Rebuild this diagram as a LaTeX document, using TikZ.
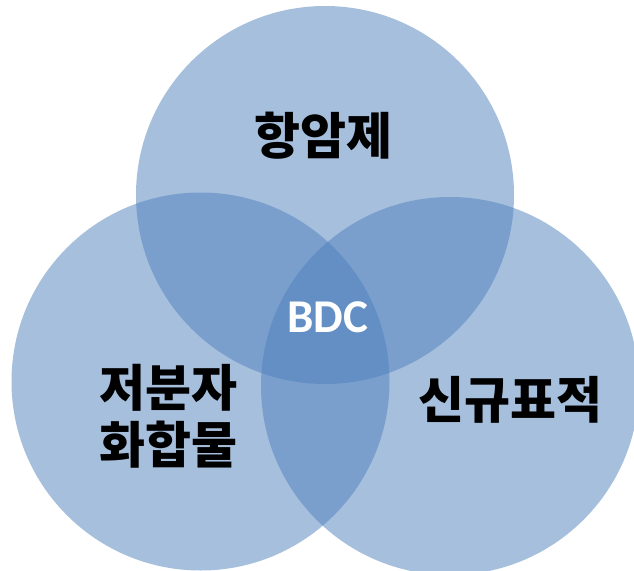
\documentclass[tikz,border=0pt]{standalone}
\usepackage{fontspec}
\newfontfamily\krfont{Noto Sans CJK KR}
\newfontfamily\carlitofont{Carlito}
\definecolor{vennblue}{HTML}{4F81BD}
\begin{document}
\begin{tikzpicture}[x=1pt,y=-1pt,
  venn/.style={fill=vennblue,fill opacity=0.5,draw=none},
  lbl/.style={font=\krfont\bfseries\fontsize{50}{57}\selectfont,text=black,align=center,inner sep=0pt}]
\useasboundingbox (0,0) rectangle (634,570);
\fill[white] (0,0) rectangle (634,570);
\path[venn] (325,195) circle[radius=189];
\path[venn] (200.5,381.5) circle[radius=189];
\path[venn] (450,386) circle[radius=189];
\node[lbl] (top) at (323,136) {항암제};
\node[lbl] (left) at (168,416) {저분자\\화합물};
\node[lbl] (right) at (510,400) {신규표적};
\node[font=\carlitofont\bfseries\fontsize{47}{50}\selectfont,text=white,inner sep=0pt] (bdc) at (328,317) {BDC};
\end{tikzpicture}
\end{document}
